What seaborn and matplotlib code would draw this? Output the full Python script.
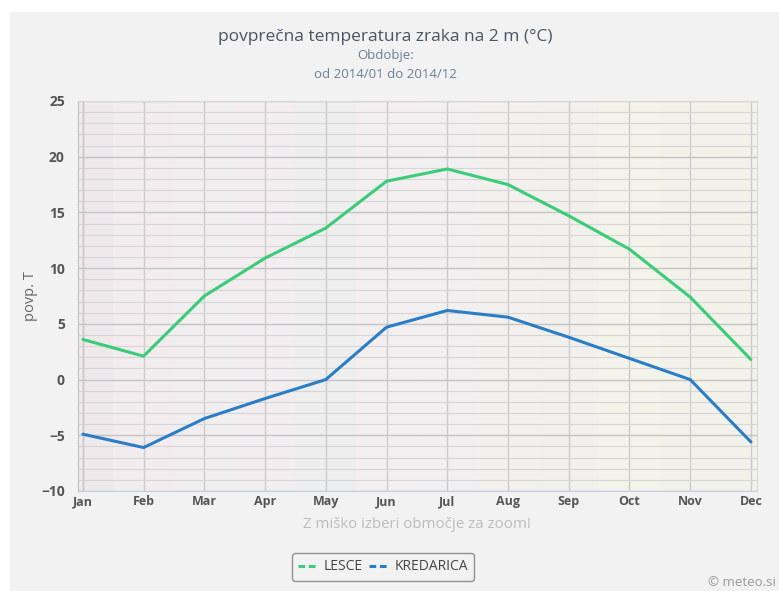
import matplotlib.pyplot as plt
import matplotlib.patches as mpatches
from matplotlib.lines import Line2D
from matplotlib.ticker import MultipleLocator
import numpy as np
import pandas as pd
import seaborn as sns

months = ["Jan", "Feb", "Mar", "Apr", "May", "Jun", "Jul", "Aug", "Sep", "Oct", "Nov", "Dec"]
lesce = [3.6, 2.1, 7.5, 10.9, 13.6, 17.8, 18.9, 17.5, 14.7, 11.7, 7.4, 1.8]
kredarica = [-4.9, -6.1, -3.5, -1.7, 0.0, 4.7, 6.2, 5.6, 3.8, 1.9, 0.0, -5.6]

df = pd.DataFrame({
    "month": list(range(12)) * 2,
    "temp": lesce + kredarica,
    "station": ["LESCE"] * 12 + ["KREDARICA"] * 12,
})
colors = {"LESCE": "#3ccb78", "KREDARICA": "#2a7ec6"}

sns.set_style("white")
plt.rcParams["font.family"] = ["Open Sans", "DejaVu Sans"]

fig = plt.figure(figsize=(7.79, 5.91), dpi=100)
fig.patch.set_facecolor("white")
# grey chart background with white margin at top/left
fig.patches.append(mpatches.Rectangle((10 / 779, 0), 1, 1 - 12 / 591, transform=fig.transFigure,
                                      facecolor="#f2f2f2", edgecolor="none", zorder=-10))

ax = fig.add_axes([78 / 779, 1 - 491 / 591, (757 - 78) / 779, (491 - 101) / 591])
ax.set_facecolor("#f1eff0")

# faint coloured vertical bands
band_cols = ["#efe9ec", "#f3ecef", "#f0eeef", "#f3edf0", "#efeeee", "#f3eef0",
             "#f1efef", "#f3f0ee", "#f1f0ec", "#f4f3e9", "#f3f2ea", "#f2f1ea"]
for i, c in enumerate(band_cols):
    ax.axvspan(i - 0.5 if i else -0.1, i + 0.5 if i < 11 else 11.2, color=c, zorder=0, lw=0)

sns.lineplot(data=df, x="month", y="temp", hue="station", palette=colors, ax=ax,
             linewidth=2.2, legend=False, zorder=5)

ax.set_xlim(-0.08, 11.1)
ax.set_ylim(-10, 25)
ax.set_xticks(range(12))
ax.set_xticklabels(months, fontweight="bold", color="#555555", fontsize=9)
ax.yaxis.set_major_locator(MultipleLocator(5))
ax.yaxis.set_minor_locator(MultipleLocator(1))
ax.tick_params(axis="y", which="major", length=6, color="#bbbbbb", labelsize=10, labelcolor="#555555")
ax.tick_params(axis="y", which="minor", length=4, color="#c8c8c8")
ax.tick_params(axis="x", length=0, pad=3)
for lab in ax.get_yticklabels():
    lab.set_fontweight("bold")

ax.grid(axis="y", which="major", color="#c4c4c4", lw=1.0, zorder=1)
ax.grid(axis="y", which="minor", color="#d6d6d6", lw=0.8, zorder=1)
ax.grid(axis="x", which="major", color="#cccccc", lw=1.0, zorder=1)
ax.set_axisbelow(True)
for s in ["top", "right"]:
    ax.spines[s].set_color("#d8d8d8")
ax.spines["left"].set_color("#c0c0c0")
ax.spines["bottom"].set_color("#c0d0e0")
ax.axvline(0, color="#c8c8c8", lw=1, zorder=1)

ax.set_xlabel("")
ax.set_ylabel("povp. T", color="#666666", fontsize=10.5, labelpad=2)

fig.text(0.495, 1 - 37 / 591, "povprečna temperatura zraka na 2 m (°C)", ha="center", va="center",
         fontsize=12.5, color="#4a5566")
fig.text(0.495, 1 - 56 / 591, "Obdobje:", ha="center", va="center", fontsize=9.5, color="#6d7f95")
fig.text(0.495, 1 - 75 / 591, "od 2014/01 do 2014/12", ha="center", va="center", fontsize=9.5,
         color="#6d7f95")
fig.text(417 / 779, 1 - 525 / 591, "Z miško izberi območje za zoom!", ha="center", va="center",
         fontsize=10.8, color="#bdbdbd")
fig.text(776 / 779, 1 - 582 / 591, "© meteo.si", ha="right", va="center", fontsize=9.5, color="#999999")

handles = [Line2D([], [], color=colors[k], lw=2.2, ls=(0, (2.2, 1.2))) for k in ["LESCE", "KREDARICA"]]
leg = fig.legend(handles, ["LESCE", "KREDARICA"], loc="center", bbox_to_anchor=(383 / 779, 1 - 567 / 591),
                 ncol=2, frameon=True, fancybox=True, fontsize=10, handlelength=1.4, handletextpad=0.4,
                 columnspacing=0.5, borderpad=0.45, labelcolor="#444444", framealpha=1)
leg.get_frame().set_edgecolor("#909090")
leg.get_frame().set_facecolor("#f2f2f2")
leg.get_frame().set_linewidth(1.0)

fig.savefig("out.png", dpi=100)
